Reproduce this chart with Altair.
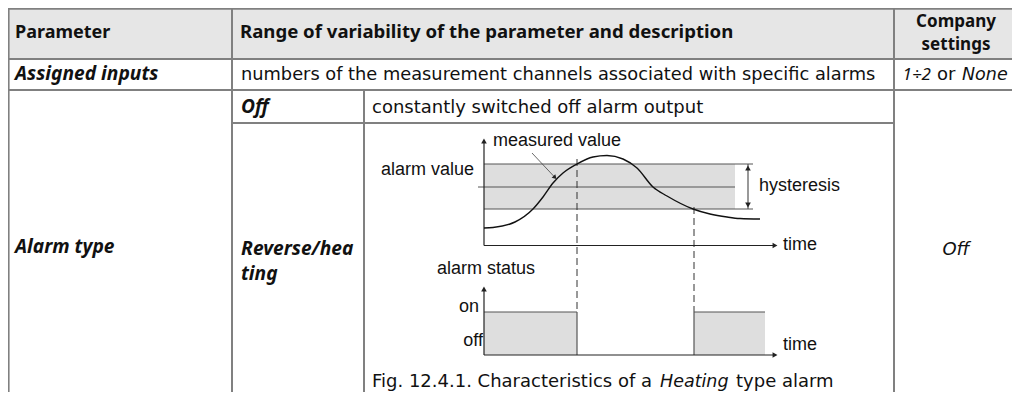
import altair as alt
import pandas as pd

# ---------------- picture frame (pixel coordinates of the reference) ----------------
X_DOMAIN = [8, 1012]
Y_DOMAIN = [8, 392]

# ---------------- table grid ----------------
GRID_V_X = [8.6, 232, 364, 894, 1018]
GRID_V_Y1 = [8, 8, 90, 8, 8]
GRID_V_Y2 = [400, 400, 400, 400, 400]
GRID_H_Y = [8.7, 59, 90, 123]
GRID_H_X1 = [8, 8, 8, 232]
GRID_H_X2 = [1019, 1019, 1019, 894]
HEADER_BOX = [8, 1019, 8, 59]

# ---------------- table texts ----------------
BOLD_TXT = ["Parameter", "Range of variability of the parameter and description"]
BOLD_X = [15, 240]
BOLD_Y = [38, 38]
BOLD_C_TXT = ["Company", "settings"]
BOLD_C_X = [956, 956]
BOLD_C_Y = [27, 50]
BI_TXT = ["Assigned inputs", "Off", "Alarm type", "Reverse/hea", "ting"]
BI_X = [15, 241, 15, 241, 241]
BI_Y = [80, 113, 253, 255, 280]
REG_TXT = ["numbers of the measurement channels associated with specific alarms",
           "constantly switched off alarm output", "or",
           "Fig. 12.4.1. Characteristics of a", "type alarm"]
REG_X = [241, 372, 937, 372, 736]
REG_Y = [80, 113, 80, 387, 387]
IT_TXT = ["None", "Heating"]
IT_X = [962, 660]
IT_Y = [80, 387]
IT_N_TXT = ["1\u00f72"]
IT_N_X = [931]
IT_N_Y = [80]
IT_C_TXT = ["Off"]
IT_C_X = [956]
IT_C_Y = [255]

# ---------------- diagram: measured value vs time ----------------
CURVE_T = [484, 493, 515, 533, 543, 553, 563, 577, 593, 607, 623, 637, 653, 667, 693, 710, 727, 740, 760]
CURVE_V = [228, 227.5, 222, 209, 197, 183, 173, 164, 157, 155.5, 159, 168, 187, 196, 209, 214, 217, 218.5, 219]
BAND = [484, 735, 164, 209]           # hysteresis band (t1, t2, v_top, v_bottom)
BAND_LINES_Y = [164, 209, 187]
BAND_LINES_X1 = [484, 484, 478]
BAND_LINES_X2 = [753, 753, 735]
HYST_X = [748]

# axes of the two small diagrams
AX_X1 = [484, 484, 484, 484]
AX_X2 = [484, 776, 484, 776]
AX_Y1 = [141, 245.5, 289, 355]
AX_Y2 = [245.5, 245.5, 355, 355]

# switching instants (dashed)
SW_T = [577, 694]
SW_Y1 = [159, 207]
SW_Y2 = [312, 312]

# alarm status: on intervals
ON_T1 = [484, 694]
ON_T2 = [577, 765]
ON_LEVEL = 312
OFF_LEVEL = 355
STEP_X1 = [484, 577, 694, 694]
STEP_X2 = [577, 577, 765, 694]
STEP_Y1 = [312, 312, 312, 312]
STEP_Y2 = [312, 355, 312, 355]

# leader arrow to curve
LEAD_X = [532, 555]
LEAD_Y = [153, 177.5]

# diagram labels
DG_TXT = ["measured value", "alarm value", "hysteresis", "time", "alarm status", "time"]
DG_X = [493, 381, 759, 783, 437, 783]
DG_Y = [146, 175, 191, 250, 274, 350]
DG_R_TXT = ["on", "off"]
DG_R_X = [479, 483]
DG_R_Y = [312, 346]

# arrow heads
UP_X = [484, 748, 484]
UP_Y = [141, 168, 289]
DOWN_X = [748]
DOWN_Y = [205]
RIGHT_X = [775, 775]
RIGHT_Y = [245.5, 355]

XS = alt.Scale(domain=X_DOMAIN, nice=False, zero=False)
YS = alt.Scale(domain=Y_DOMAIN, nice=False, zero=False, reverse=True)


def X(f="x"):
    return alt.X(f + ":Q", scale=XS, axis=None)


def Y(f="y"):
    return alt.Y(f + ":Q", scale=YS, axis=None)


def rules(x1, x2, y1, y2, **kw):
    df = pd.DataFrame({"x": x1, "x2": x2, "y": y1, "y2": y2})
    return alt.Chart(df).mark_rule(**kw).encode(x=X(), x2="x2:Q", y=Y(), y2="y2:Q")


def rects(x1, x2, y1, y2, **kw):
    df = pd.DataFrame({"x": x1, "x2": x2, "y": y1, "y2": y2})
    return alt.Chart(df).mark_rect(**kw).encode(x=X(), x2="x2:Q", y=Y(), y2="y2:Q")


def texts(t, x, y, **kw):
    df = pd.DataFrame({"t": t, "x": x, "y": y})
    return alt.Chart(df).mark_text(baseline="alphabetic", color="#111111", **kw).encode(
        x=X(), y=Y(), text="t:N")


def heads(x, y, shape, angle=0, size=32):
    df = pd.DataFrame({"x": x, "y": y})
    kw = dict(filled=True, shape=shape, size=size, color="#222222", opacity=1)
    if angle:
        kw["angle"] = angle
    return alt.Chart(df).mark_point(**kw).encode(x=X(), y=Y())


TF = "DejaVu Sans"
BF = "Noto Sans"
DF = "Liberation Sans"

layers = [
    rects([HEADER_BOX[0]], [HEADER_BOX[1]], [HEADER_BOX[2]], [HEADER_BOX[3]], color="#e6e6e6"),
    rects([BAND[0]], [BAND[1]], [BAND[2]], [BAND[3]], color="#dedede"),
    rects(ON_T1, ON_T2, [ON_LEVEL] * 2, [OFF_LEVEL] * 2, color="#dedede"),
    rules(GRID_V_X, GRID_V_X, GRID_V_Y1, GRID_V_Y2, color="#808080", strokeWidth=2),
    rules(GRID_H_X1, GRID_H_X2, GRID_H_Y, GRID_H_Y, color="#808080", strokeWidth=2),
    rules(BAND_LINES_X1, BAND_LINES_X2, BAND_LINES_Y, BAND_LINES_Y, color="#555555", strokeWidth=1),
    rules(HYST_X, HYST_X, [BAND[2]], [BAND[3]], color="#555555", strokeWidth=1.2),
    rules(SW_T, SW_T, SW_Y1, SW_Y2, color="#333333", strokeWidth=1, strokeDash=[7, 4]),
    rules(STEP_X1, STEP_X2, STEP_Y1, STEP_Y2, color="#555555", strokeWidth=1.2),
    rules(AX_X1, AX_X2, AX_Y1, AX_Y2, color="#222222", strokeWidth=1.2),
    rules([LEAD_X[0]], [LEAD_X[1]], [LEAD_Y[0]], [LEAD_Y[1]], color="#444444", strokeWidth=0.8),
    alt.Chart(pd.DataFrame({"x": CURVE_T, "y": CURVE_V, "o": list(range(len(CURVE_T)))}))
    .mark_line(color="#111111", strokeWidth=1.4, interpolate="monotone")
    .encode(x=X(), y=Y(), order="o:Q"),
    heads(UP_X, UP_Y, "triangle-up"),
    heads(DOWN_X, DOWN_Y, "triangle-down"),
    heads(RIGHT_X, RIGHT_Y, "triangle-right"),
    heads([LEAD_X[1]], [LEAD_Y[1]], "triangle-up", angle=136, size=26),
    texts(BOLD_TXT[:1], BOLD_X[:1], BOLD_Y[:1], align="left", font=BF, fontSize=18, fontWeight="bold"),
    texts(BOLD_TXT[1:], BOLD_X[1:], BOLD_Y[1:], align="left", font=BF, fontSize=18.6, fontWeight="bold"),
    texts(BOLD_C_TXT, BOLD_C_X, BOLD_C_Y, align="center", font=BF, fontSize=17, fontWeight="bold"),
    texts(BI_TXT, BI_X, BI_Y, align="left", font=BF, fontSize=19.2, fontWeight="bold", fontStyle="italic"),
    texts(REG_TXT[:1], REG_X[:1], REG_Y[:1], align="left", font=TF, fontSize=17.8),
    texts(REG_TXT[1:], REG_X[1:], REG_Y[1:], align="left", font=TF, fontSize=18),
    texts(IT_TXT, IT_X, IT_Y, align="left", font=TF, fontSize=17.5, fontStyle="italic"),
    texts(IT_N_TXT, IT_N_X, IT_N_Y, align="right", font=BF, fontSize=17, fontStyle="italic"),
    texts(IT_C_TXT, IT_C_X, IT_C_Y, align="center", font=TF, fontSize=18, fontStyle="italic"),
    texts(DG_TXT, DG_X, DG_Y, align="left", font=DF, fontSize=18),
    texts(DG_R_TXT, DG_R_X, DG_R_Y, align="right", font=DF, fontSize=18),
]

chart = (
    alt.layer(*layers)
    .properties(width=1004, height=384, padding=0, autosize=alt.AutoSizeParams(type="none"))
    .configure_view(stroke=None)
    .configure(background="white")
)

chart.save("out.html", embed_options={"renderer": "svg", "actions": False})
